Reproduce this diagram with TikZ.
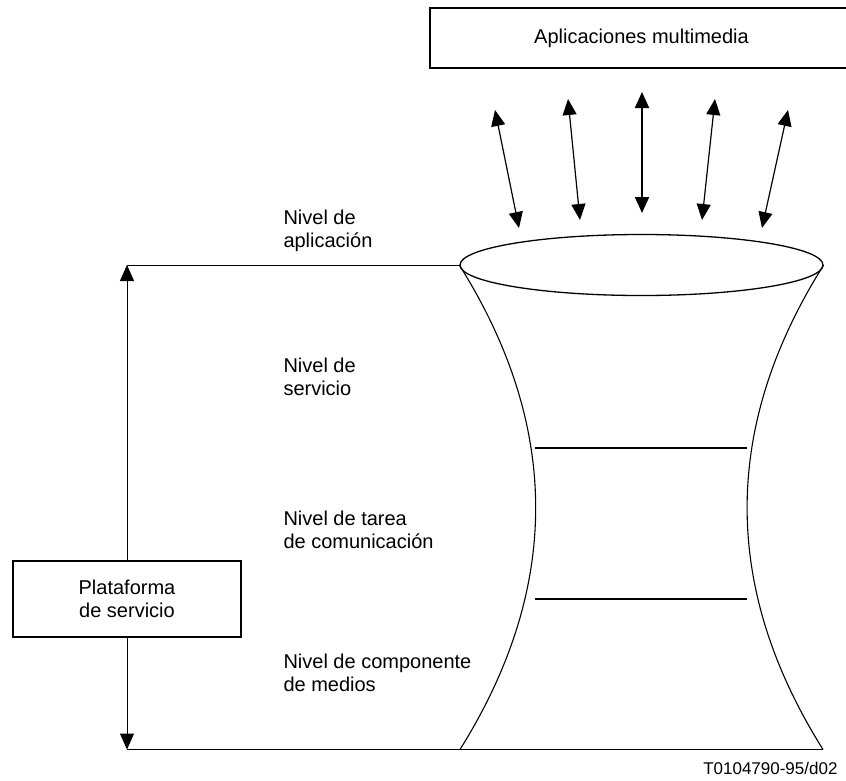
\documentclass[tikz,border=0pt]{standalone}
\usepackage{fontspec}
\setmainfont{Liberation Sans}
\usetikzlibrary{arrows.meta,shapes.geometric}

\tikzset{
  capa/.style={anchor=north west,inner sep=0pt,align=left,font=\fontsize{20}{23}\selectfont},
  caja/.style={draw,line width=1.5pt,fill=white,align=center,inner sep=0pt,font=\fontsize{20}{23}\selectfont},
  flecha/.style={{Triangle[length=16pt,width=14pt]}-{Triangle[length=16pt,width=14pt]}},
}

\begin{document}
\begin{tikzpicture}[x=1pt,y=-1pt,line width=1pt]
    \useasboundingbox (0,0) rectangle (846,780);
    \clip (0,0) rectangle (846,780);
    % caja superior
    \node[caja,minimum width=423pt,minimum height=60pt] (multimedia) at (641.5,38) {Aplicaciones multimedia};
    % flechas hacia la boca
    \foreach \xa/\ya/\xb/\yb/\lw [count=\i] in {495/110/519/228/1.2,568/99/580/220/1.2,642/92/642/213/2,715/99/702/220/1.2,788/110/762/228/1.2} {
        \coordinate (s\i) at (\xa,\ya);
        \coordinate (e\i) at (\xb,\yb);
        \draw[flecha,line width=\lw pt] (s\i) -- (e\i);
    }
    % embudo
    \node[draw,ellipse,line width=1.3pt,inner sep=0pt,minimum width=363pt,minimum height=61pt] (boca) at (641.5,265) {};
    \coordinate (fondoizq) at (460,749.5);
    \coordinate (fondoder) at (823,749.5);
    \draw[line width=1.1pt] (boca.west) .. controls (561,427) and (561,588) .. (fondoizq);
    \draw[line width=1.1pt] (boca.east) .. controls (721.7,427) and (721.7,588) .. (fondoder);
    \foreach \y in {448,599} {
        \draw[line width=2pt] (535,\y) -- (747,\y);
    }
    % plataforma
    \coordinate (arriba) at (127,265);
    \coordinate (abajo) at (127,749.5);
    \draw (arriba) -- (boca.west);
    \draw (abajo) -- (fondoder);
    \draw[flecha] (arriba) -- (abajo);
    \node[caja,minimum width=228pt,minimum height=76pt] (plataforma) at (127,599) {Plataforma\\de servicio};
    % niveles
    \node[capa] (aplicacion) at (283,210) {Nivel de\\aplicación};
    \node[capa] (servicio) at (283,357) {Nivel de\\servicio};
    \node[capa] (tarea) at (283,510) {Nivel de tarea\\de comunicación};
    \node[capa] (medios) at (283,653) {Nivel de componente\\de medios};
    \node[anchor=north east,inner sep=0pt,font=\fontsize{17}{20}\selectfont] (ref) at (838,762) {T0104790-95/d02};
\end{tikzpicture}
\end{document}
